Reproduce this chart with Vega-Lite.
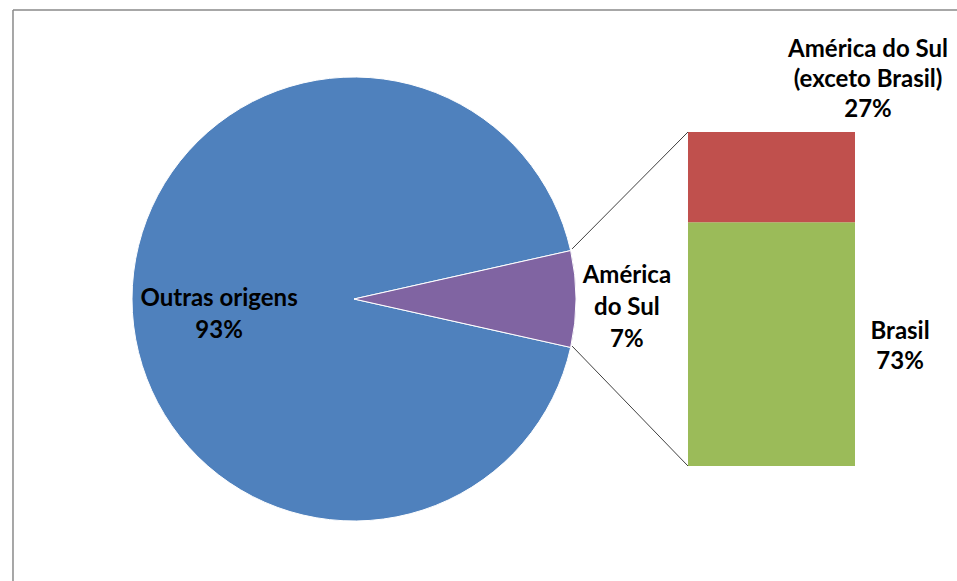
{
  "$schema": "https://vega.github.io/schema/vega-lite/v6.json",
  "width": 957,
  "height": 581,
  "autosize": "none",
  "padding": 0,
  "background": "#ffffff",
  "config": {"view": {"stroke": null}},
  "datasets": {
    "origens": [
      {"origem": "Outras origens", "rotulo": "Outras origens", "pct": 93},
      {"origem": "América do Sul", "rotulo": "América\ndo Sul", "pct": 7}
    ],
    "america": [
      {"origem": "Brasil", "rotulo": "Brasil", "pct": 73},
      {"origem": "América do Sul (exceto Brasil)", "rotulo": "América do Sul\n(exceto Brasil)", "pct": 27}
    ],
    "um": [{}]
  },
  "layer": [
    {
      "data": {"name": "um"},
      "mark": {"type": "rule", "color": "#8a8a8a", "strokeWidth": 1.5},
      "encoding": {
        "x": {"datum": -102.1, "type": "quantitative", "scale": {"domain": [-105.99, 180.54], "nice": false, "zero": false}, "axis": null},
        "y": {"datum": 136.53, "type": "quantitative", "scale": {"domain": [-34.43, 139.52], "nice": false, "zero": false}, "axis": null},
        "y2": {"datum": -34.43}
      }
    },
    {
      "data": {"name": "um"},
      "mark": {"type": "rule", "color": "#8a8a8a", "strokeWidth": 1.5},
      "encoding": {
        "x": {"datum": -102.1, "type": "quantitative", "axis": null},
        "x2": {"datum": 180.54},
        "y": {"datum": 136.53, "type": "quantitative", "axis": null}
      }
    },
    {
      "data": {"name": "origens"},
      "mark": {"type": "arc", "outerRadius": 222, "stroke": "#ffffff", "strokeWidth": 1},
      "encoding": {
        "x": {"datum": 0, "type": "quantitative", "axis": null},
        "y": {"datum": 50, "type": "quantitative", "axis": null},
        "theta": {"field": "pct", "type": "quantitative", "stack": true, "scale": {"range": [1.3509, 7.6341]}},
        "order": {"field": "pct", "type": "quantitative", "sort": "ascending"},
        "color": {
          "field": "origem", "type": "nominal", "legend": null,
          "scale": {
            "domain": ["Outras origens", "América do Sul", "Brasil", "América do Sul (exceto Brasil)"],
            "range": ["#4F81BD", "#8064A2", "#9BBB59", "#C0504D"]
          }
        }
      }
    },
    {
      "data": {"name": "america"},
      "transform": [
        {"stack": "pct", "groupby": [], "sort": [{"field": "pct", "order": "descending"}], "as": ["y0", "y1"]}
      ],
      "mark": {"type": "rect"},
      "encoding": {
        "x": {"datum": 100, "type": "quantitative", "axis": null},
        "x2": {"datum": 150},
        "y": {"field": "y0", "type": "quantitative", "axis": null},
        "y2": {"field": "y1"},
        "color": {
          "field": "origem", "type": "nominal", "legend": null,
          "scale": {
            "domain": ["Outras origens", "América do Sul", "Brasil", "América do Sul (exceto Brasil)"],
            "range": ["#4F81BD", "#8064A2", "#9BBB59", "#C0504D"]
          }
        }
      }
    },
    {
      "data": {"name": "um"},
      "mark": {"type": "rule", "color": "#404040", "strokeWidth": 1},
      "encoding": {
        "x": {"datum": 65.3, "type": "quantitative", "axis": null},
        "y": {"datum": 65.0, "type": "quantitative", "axis": null},
        "x2": {"datum": 100},
        "y2": {"datum": 100}
      }
    },
    {
      "data": {"name": "um"},
      "mark": {"type": "rule", "color": "#404040", "strokeWidth": 1},
      "encoding": {
        "x": {"datum": 65.3, "type": "quantitative", "axis": null},
        "y": {"datum": 35.9, "type": "quantitative", "axis": null},
        "x2": {"datum": 100},
        "y2": {"datum": 0}
      }
    },
    {
      "data": {"name": "origens"},
      "transform": [
        {"filter": "datum.origem === 'Outras origens'"},
        {"calculate": "datum.rotulo + '\\n' + datum.pct + '%'", "as": "label"}
      ],
      "mark": {"type": "text", "font": "Lato", "fontWeight": "bold", "fontSize": 24, "lineBreak": "\n", "lineHeight": 32, "align": "center", "baseline": "alphabetic", "color": "#000000"},
      "encoding": {
        "x": {"datum": -40.4, "type": "quantitative", "axis": null},
        "y": {"datum": 47.9, "type": "quantitative", "axis": null},
        "text": {"field": "label", "type": "nominal"}
      }
    },
    {
      "data": {"name": "origens"},
      "transform": [
        {"filter": "datum.origem === 'América do Sul'"},
        {"calculate": "datum.rotulo + '\\n' + datum.pct + '%'", "as": "label"}
      ],
      "mark": {"type": "text", "font": "Lato", "fontWeight": "bold", "fontSize": 24, "lineBreak": "\n", "lineHeight": 32, "align": "center", "baseline": "alphabetic", "color": "#000000"},
      "encoding": {
        "x": {"datum": 81.7, "type": "quantitative", "axis": null},
        "y": {"datum": 54.8, "type": "quantitative", "axis": null},
        "text": {"field": "label", "type": "nominal"}
      }
    },
    {
      "data": {"name": "america"},
      "transform": [
        {"filter": "datum.origem === 'Brasil'"},
        {"calculate": "datum.rotulo + '\\n' + datum.pct + '%'", "as": "label"}
      ],
      "mark": {"type": "text", "font": "Lato", "fontWeight": "bold", "fontSize": 24, "lineBreak": "\n", "lineHeight": 30, "align": "center", "baseline": "alphabetic", "color": "#000000"},
      "encoding": {
        "x": {"datum": 163.5, "type": "quantitative", "axis": null},
        "y": {"datum": 38.0, "type": "quantitative", "axis": null},
        "text": {"field": "label", "type": "nominal"}
      }
    },
    {
      "data": {"name": "america"},
      "transform": [
        {"filter": "datum.origem === 'América do Sul (exceto Brasil)'"},
        {"calculate": "datum.rotulo + '\\n' + datum.pct + '%'", "as": "label"}
      ],
      "mark": {"type": "text", "font": "Lato", "fontWeight": "bold", "fontSize": 24, "lineBreak": "\n", "lineHeight": 30, "align": "center", "baseline": "alphabetic", "color": "#000000"},
      "encoding": {
        "x": {"datum": 153.9, "type": "quantitative", "axis": null},
        "y": {"datum": 122.5, "type": "quantitative", "axis": null},
        "text": {"field": "label", "type": "nominal"}
      }
    }
  ]
}
